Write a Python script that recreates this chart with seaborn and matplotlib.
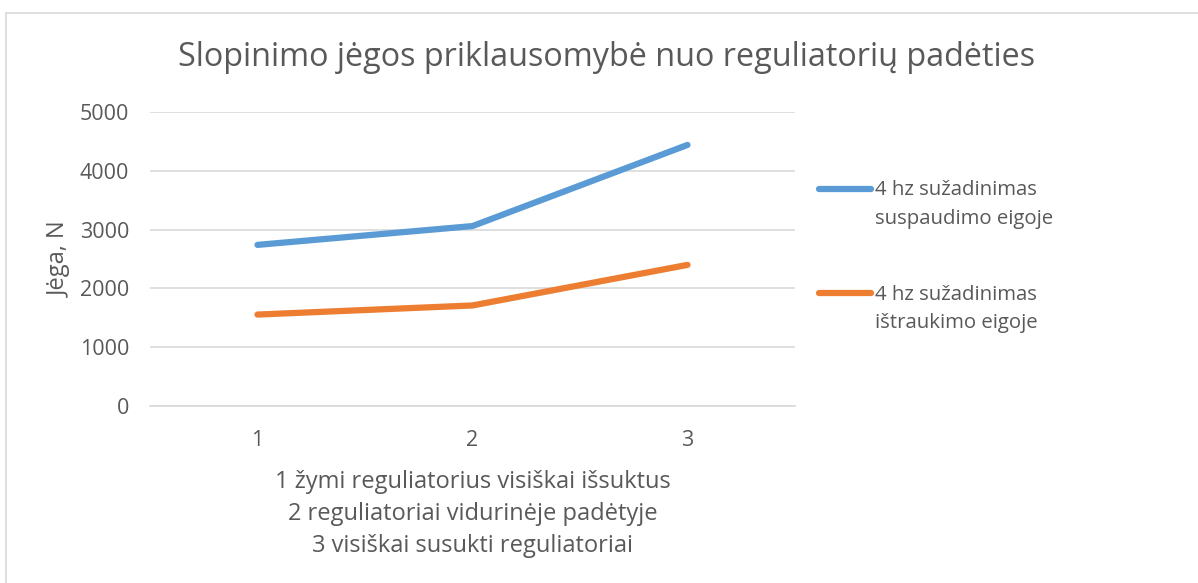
import matplotlib
matplotlib.use("Agg")
import matplotlib.pyplot as plt
import seaborn as sns
import pandas as pd

# values
positions = [1, 2, 3]
suspaudimo = [2740, 3060, 4440]
istraukimo = [1555, 1710, 2400]
series_names = ["4 hz sužadinimas\nsuspaudimo eigoje", "4 hz sužadinimas\ništraukimo eigoje"]
y_ticks = [0, 1000, 2000, 3000, 4000, 5000]

df = pd.DataFrame({
    "pos": positions * 2,
    "val": suspaudimo + istraukimo,
    "series": [series_names[0]] * 3 + [series_names[1]] * 3,
})

sns.set_style("white")
plt.rcParams["font.family"] = ["Open Sans", "DejaVu Sans"]
grey = "#595959"

fig = plt.figure(figsize=(11.98, 5.83), dpi=100)
ax = fig.add_axes([150 / 1198, 1 - 406 / 583, 645 / 1198, 294 / 583])

sns.lineplot(data=df, x="pos", y="val", hue="series",
             palette=["#5b9bd5", "#ed7d31"], linewidth=4.5, ax=ax,
             solid_capstyle="round")

ax.set_xlim(0.5, 3.5)
ax.set_ylim(0, 5000)
ax.set_xticks(positions)
ax.set_yticks(y_ticks)
ax.tick_params(colors=grey, labelsize=15.5, length=0)
ax.tick_params(axis="x", pad=17.5)
ax.tick_params(axis="y", pad=15)
ax.yaxis.grid(True, color="#d9d9d9", linewidth=1.2)
for s in ["top", "right", "left"]:
    ax.spines[s].set_visible(False)
ax.spines["bottom"].set_color("#d9d9d9")
ax.spines["bottom"].set_linewidth(1.2)

ax.set_xlabel("1 žymi reguliatorius visiškai išsuktus\n2 reguliatoriai vidurinėje padėtyje\n3 visiškai susukti reguliatoriai",
              color=grey, fontsize=17, linespacing=1.45, labelpad=13.5)
ax.set_ylabel("Jėga, N", color=grey, fontsize=17)
ax.yaxis.set_label_coords(-0.121, 0.5)

fig.text(0.506, 1 - 58 / 583, "Slopinimo jėgos priklausomybė nuo reguliatorių padėties",
         ha="center", va="center", fontsize=23.3, color=grey)

leg = ax.legend(loc="upper left", bbox_to_anchor=(1.025, 0.795), frameon=False,
                fontsize=14.7, labelcolor=grey, handlelength=2.55, handletextpad=0.2,
                labelspacing=2.75, borderaxespad=0)
for t in leg.get_texts():
    t.set_linespacing(1.55)
# Excel puts the legend key next to the first text line
for ln in leg.get_lines():
    ln.set_ydata([v + 11.5 for v in ln.get_ydata()])

# outer chart border
fig.patches.append(plt.Rectangle((6 / 1198, -0.01), 1.2, 1 - 13 / 583 + 0.01,
                                 transform=fig.transFigure, fill=False,
                                 edgecolor="#d9d9d9", linewidth=1.2))

fig.savefig("out.png", dpi=100)
